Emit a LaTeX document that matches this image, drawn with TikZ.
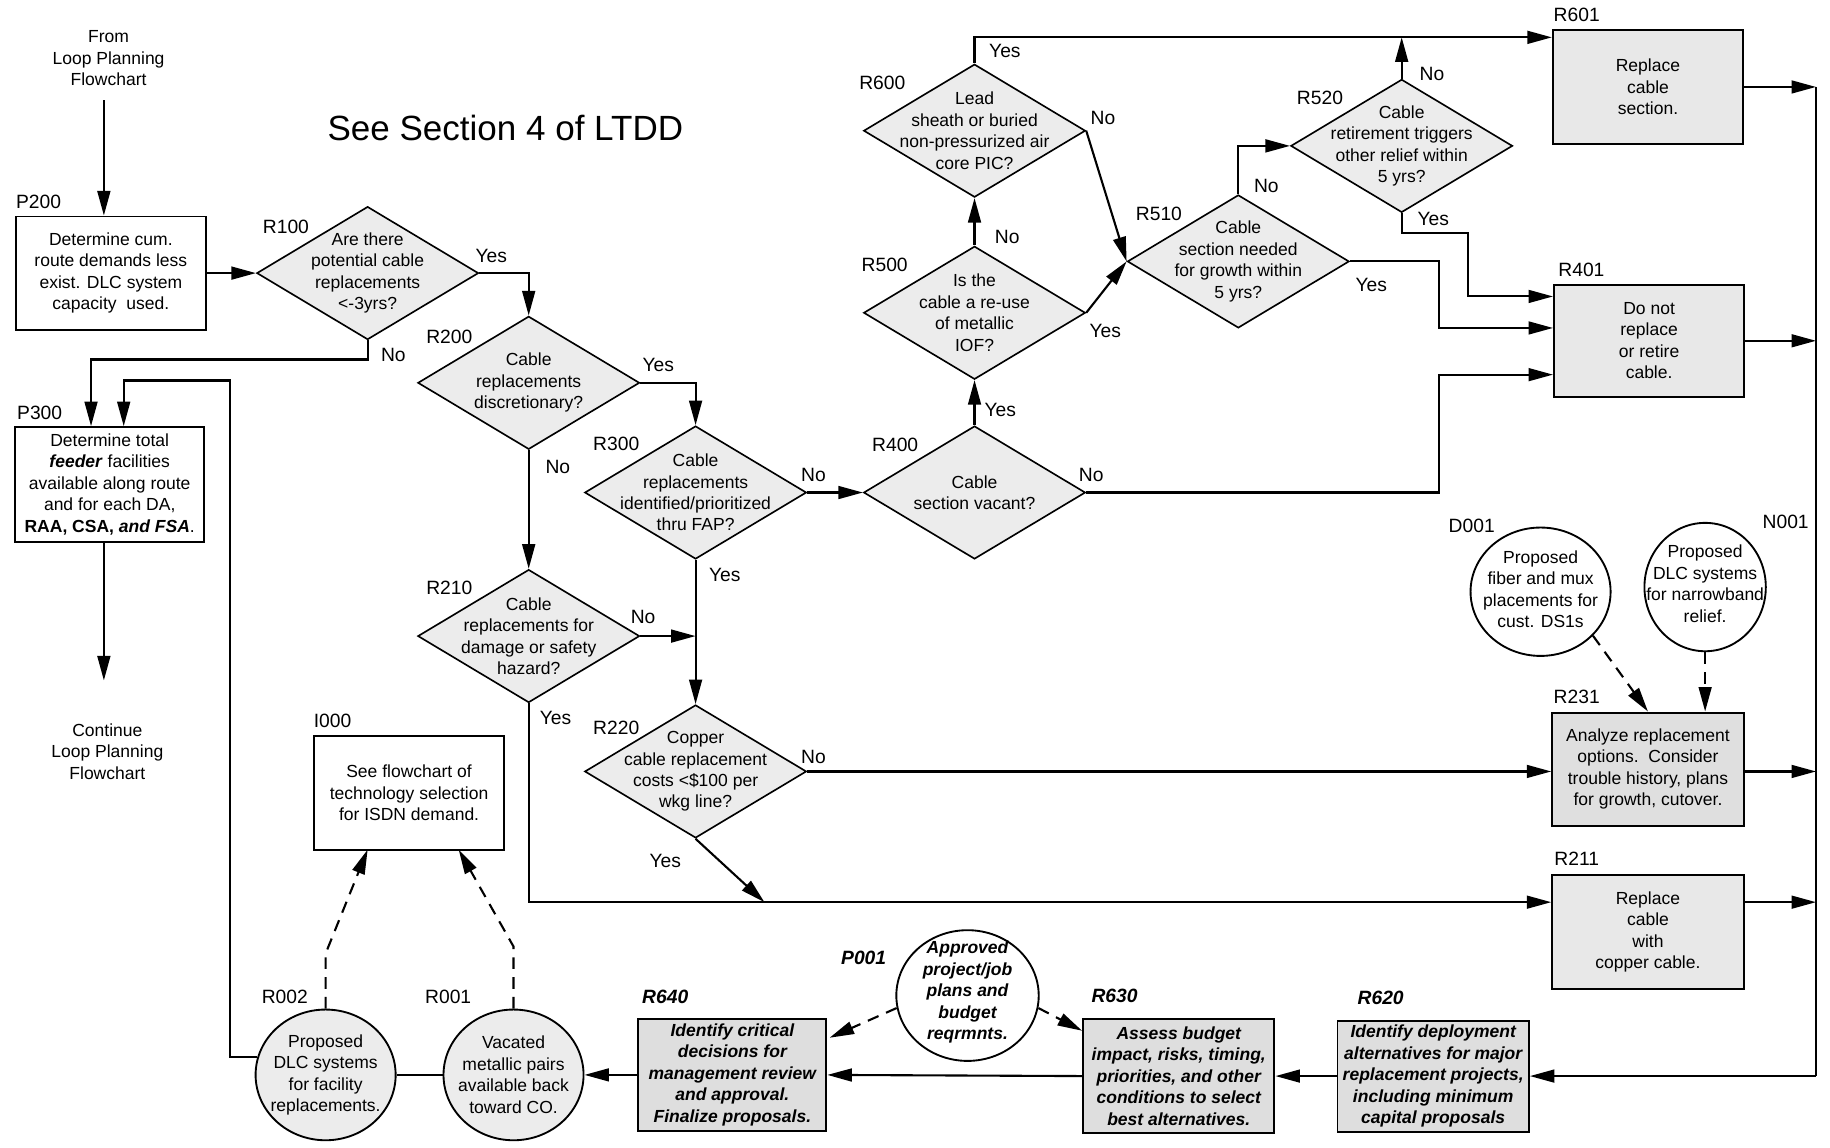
\documentclass[tikz,border=0pt]{standalone}
\usepackage{fontspec}
\setmainfont{Liberation Sans}
\usetikzlibrary{shapes.geometric,arrows.meta,calc}
\newcommand{\bodyf}{\fontsize{15}{18.4}\selectfont}
\newcommand{\labf}{\fontsize{16.5}{19}\selectfont}
\begin{document}
\begin{tikzpicture}[x=1pt,y=-1pt,
 ln/.style={line width=1.8pt},
 arr/.style={line width=1.8pt,-{Triangle[length=21pt,width=11pt]}},
 darr/.style={arr,dash pattern=on 10pt off 7pt},
 box/.style={draw,line width=1.7pt,align=center,inner sep=0pt,font=\bodyf,minimum width=163pt,minimum height=97pt},
 sbox/.style={box,fill=gray!18},
 bbox/.style={box,fill=gray!26,font=\bodyf\bfseries\itshape},
 dia/.style={diamond,draw,line width=1.4pt,fill=gray!15,inner sep=0pt,minimum width=190pt,minimum height=114pt},
 txt/.style={align=center,font=\bodyf,inner sep=0pt},
 btxt/.style={align=center,font=\bodyf\bfseries\itshape,inner sep=0pt},
 ell/.style={ellipse,draw,line width=1.6pt,inner sep=0pt},
 lab/.style={font=\labf,inner sep=0pt},
 blab/.style={font=\labf\bfseries\itshape,inner sep=0pt}]
\useasboundingbox (0,0) rectangle (1568,983);

% title
\node[font=\fontsize{30}{36}\selectfont,inner sep=0pt] (title) at (433,110) {See Section 4 of LTDD};

% left column
\node[txt] (from) at (93,50) {From\\Loop Planning\\Flowchart};
\coordinate (a0) at (89,86);
\node[box] (p200) at (95,234) {Determine cum.\\route demands less\\exist. DLC system\\capacity\ \ used.};
\node[box,minimum width=162pt,minimum height=98pt] (p300) at (94,415) {Determine total\\\textbf{\textit{feeder}} facilities\\available along route\\and for each DA,\\\textbf{RAA, CSA, \textit{and FSA}}.};
\node[txt] (cont) at (92,644) {Continue\\Loop Planning\\Flowchart};
\coordinate (a1) at (89,583);

% decisions
\node[dia,label={[txt]center:{Are there\\potential cable\\replacements\\<-3yrs?}}] (r100) at (315,234) {};
\node[dia,label={[txt]center:{Cable\\replacements\\discretionary?}}] (r200) at (453,328) {};
\node[dia,label={[txt]center:{Cable\\replacements for\\damage or safety\\hazard?}}] (r210) at (453,545) {};
\node[dia,label={[txt]center:{Cable\\replacements\\identified/prioritized\\thru FAP?}}] (r300) at (596,422) {};
\node[dia,label={[txt]center:{Copper\\cable replacement\\costs <\$100 per\\wkg line?}}] (r220) at (596,661) {};
\node[dia,label={[txt]center:{Cable\\section vacant?}}] (r400) at (835,422) {};
\node[dia,label={[txt]center:{Is the\\cable a re-use\\of metallic\\IOF?}}] (r500) at (835,268) {};
\node[dia,label={[txt]center:{Lead\\sheath or buried\\non-pressurized air\\core PIC?}}] (r600) at (835,112) {};
\node[dia,label={[txt]center:{Cable\\section needed\\for growth within\\5 yrs?}}] (r510) at (1061,224) {};
\node[dia,label={[txt]center:{Cable\\retirement triggers\\other relief within\\5 yrs?}}] (r520) at (1201,125) {};

% right boxes
\node[sbox] (r601) at (1412,74.5) {Replace\\cable\\section.};
\node[sbox,minimum height=96pt] (r401) at (1413,292) {Do not\\replace\\or retire\\cable.};
\node[sbox,fill=gray!25,minimum width=164pt] (r231) at (1412,659) {Analyze replacement\\options.\ \ Consider\\trouble history, plans\\for growth, cutover.};
\node[sbox,minimum width=164pt] (r211) at (1412,798.5) {Replace\\cable\\with\\copper cable.};
\node[box] (i000) at (350.5,679.5) {See flowchart of\\technology selection\\for ISDN demand.};

% circles
\node[ell,minimum width=120pt,minimum height=110pt,label={[txt,yshift=2pt]center:{Proposed\\fiber and mux\\placements for\\cust. DS1s}}] (d001) at (1320,507) {};
\node[ell,minimum width=104pt,minimum height=110pt,label={[txt,yshift=3pt]center:{Proposed\\DLC systems\\for narrowband\\relief.}}] (n001) at (1461,503) {};
\node[ell,minimum width=122pt,minimum height=112pt,label={[btxt,yshift=3pt]center:{Approved\\project/job\\plans and\\budget\\reqrmnts.}}] (p001) at (829,853) {};
\node[ell,fill=gray!15,minimum width=120pt,minimum height=112pt,label={[txt]center:{Vacated\\metallic pairs\\available back\\toward CO.}}] (r001) at (440,921) {};
\node[ell,fill=gray!15,minimum width=120pt,minimum height=112pt,label={[txt]center:{Proposed\\DLC systems\\for facility\\replacements.}}] (r002) at (279,921) {};

% bottom boxes
\node[bbox,minimum width=164pt,minimum height=95pt] (r620) at (1228,922) {Identify deployment\\alternatives for major\\replacement projects,\\including minimum\\capital proposals};
\node[bbox,minimum width=164pt,minimum height=98pt] (r630) at (1010,922) {Assess budget\\impact, risks, timing,\\priorities, and other\\conditions to select\\best alternatives.};
\node[bbox,minimum width=161pt,minimum height=96pt] (r640) at (627.5,921) {Identify critical\\decisions for\\management review\\and approval.\\Finalize proposals.};

% id labels
\node[lab] (lp200) at (33,173) {P200};
\node[lab] (lr100) at (245,194) {R100};
\node[lab] (lr200) at (385,289) {R200};
\node[lab] (lp300) at (34,354) {P300};
\node[lab] (lr300) at (528,380) {R300};
\node[lab] (lr210) at (385,504) {R210};
\node[lab] (lr220) at (528,624) {R220};
\node[lab] (lr400) at (767,381) {R400};
\node[lab] (lr500) at (758,227) {R500};
\node[lab] (lr600) at (756,71) {R600};
\node[lab] (lr510) at (993,183) {R510};
\node[lab] (lr520) at (1131,84) {R520};
\node[lab] (lr601) at (1351,13) {R601};
\node[lab] (lr401) at (1355,231) {R401};
\node[lab] (ld001) at (1261,451) {D001};
\node[lab] (ln001) at (1530,447) {N001};
\node[lab] (lr231) at (1351,597) {R231};
\node[lab] (lr211) at (1351,736) {R211};
\node[lab] (li000) at (285,618) {I000};
\node[lab] (lr002) at (244,854) {R002};
\node[lab] (lr001) at (384,854) {R001};
\node[blab] (lr640) at (570,854) {R640};
\node[blab] (lp001) at (740,821) {P001};
\node[blab] (lr630) at (955,853) {R630};
\node[blab] (lr620) at (1183,855) {R620};

% yes/no labels
\node[lab] (y100) at (421,219) {Yes};
\node[lab] (n100) at (337,304) {No};
\node[lab] (y200) at (564,313) {Yes};
\node[lab] (n200) at (478,400) {No};
\node[lab] (n210) at (551,529) {No};
\node[lab] (y210) at (476,615) {Yes};
\node[lab] (n300) at (697,407) {No};
\node[lab] (y300) at (621,493) {Yes};
\node[lab] (n220) at (697,649) {No};
\node[lab] (y220) at (570,738) {Yes};
\node[lab] (n400) at (935,407) {No};
\node[lab] (y400) at (857,351) {Yes};
\node[lab] (n500) at (863,203) {No};
\node[lab] (y500) at (947,284) {Yes};
\node[lab] (y600) at (861,44) {Yes};
\node[lab] (n600) at (945,101) {No};
\node[lab] (n510) at (1085,159) {No};
\node[lab] (y510) at (1175,244) {Yes};
\node[lab] (n520) at (1227,63) {No};
\node[lab] (y520) at (1228,188) {Yes};

% helper coordinates
\coordinate (c1) at (78,308);
\coordinate (c2) at (197,326);
\coordinate (c3) at (106,326);
\coordinate (c4) at (453,773);
\coordinate (c5) at (655,773);
\coordinate (c6) at (1233,321);
\coordinate (c7) at (835,32);
\coordinate (c8) at (1233,281);
\coordinate (c9) at (1258,200);
\coordinate (c10) at (1258,254);
\coordinate (bt) at (1556,74.5);
\coordinate (bb) at (1556,922);
\coordinate (c12) at (279,817);
\coordinate (c13) at (315,728);
\coordinate (c14) at (440,811);
\coordinate (c15) at (393,728);

% connectors
\draw[arr] (a0) -- (a0 |- p200.north);
\draw[arr] (p200.east) -- (r100.west);
\draw[arr] (r100.east) -| (r200.north);
\draw[arr] (r100.south) |- (c1) -- (c1 |- p300.north);
\draw[arr] (r002.165) -| (c2) -- (c3) -- (c3 |- p300.north);
\draw[arr] (a1 |- p300.south) -- (a1);
\draw[arr] (r200.south) -- (r210.north);
\draw[arr] (r200.east) -| (r300.north);
\draw[arr] (r210.east) -- (r210.east -| r300.south);
\draw[arr] (r300.south) -- (r220.north);
\draw[arr] (r300.east) -- (r400.west);
\draw[arr] (r210.south) -- (c4) -- (c4 -| r211.west);
\draw[arr] (r220.south) -- (c5);
\draw[arr] (r220.east) -- (r220.east -| r231.west);
\draw[arr] (r400.north) -- (r500.south);
\draw[arr] (r400.east) -| (c6) -- (c6 -| r401.west);
\draw[arr] (r500.north) -- (r600.south);
\draw[arr] (r500.east) -- (r510.west);
\draw[arr] (r600.east) -- (r510.west);
\draw[arr] (r600.north) -- (c7) -- (c7 -| r601.west);
\draw[arr] (r510.north) |- (r520.west);
\draw[arr] (r510.east) -| (c8) -- (c8 -| r401.west);
\draw[arr] (r520.north) -- (r520.north |- c7);
\draw[arr] (r520.south) |- (c9) -- (c10) -- (c10 -| r401.west);
\draw[arr] (r601.east) -- (bt);
\draw[ln] (bt) -- (bb);
\draw[arr] (r401.east) -- (r401.east -| bt);
\draw[arr] (r220.east -| r231.east) -- (r220.east -| bt);
\draw[arr] (c4 -| r211.east) -- (c4 -| bt);
\draw[arr] (bb) -- (r620.east);
\draw[arr] (r620.west) -- (r630.east);
\draw[arr] (r630.west) -- (r640.east);
\draw[arr] (r640.west) -- (r001.east);
\draw[ln] (r001.west) -- (r002.east);
\draw[darr] (r002.north) -- (c12) -- (c13);
\draw[darr] (r001.north) -- (c14) -- (c15);
\draw[darr] (p001.190) -- ($(r640.north east)+(2,17)$);
\draw[darr] (p001.-10) -- ($(r630.north west)+(0,11)$);
\draw[darr] (d001.-40) -- (r231.north);
\draw[darr] (n001.south) -- (n001.south |- r231.north);
\end{tikzpicture}
\end{document}
